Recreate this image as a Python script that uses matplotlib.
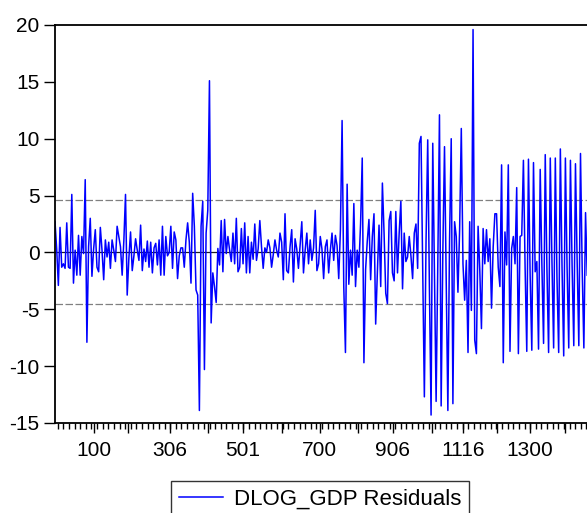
import numpy as np
import matplotlib.pyplot as plt

plt.rcParams['font.family'] = ['Liberation Sans', 'DejaVu Sans']
plt.rcParams['axes.unicode_minus'] = False

# residuals, left to right
resid_a = [2.7, 0.3, -2.9, 2.2, -1.3, -1.0, -1.4, 2.6, -1.3, -1.4,
           5.1, -2.7, 0.2, -2.0, 1.5, -2.0, 1.4, -0.1, 6.4, -7.9,
           0.5, 3.0, -2.1, 0.3, 2.0, -1.3, -1.7, 2.2, 0.2, -2.4,
           1.1, -0.4, 0.9, -1.4, 1.1, 0.2, -0.8, 2.3, 1.4, 0.5,
           -2.0, 1.0, 5.1, -3.75, -0.5, 1.8, -1.6, -0.3, 1.2, 0.2,
           -0.7, 2.4, -1.6, 0.3, -0.8, 1.0, -1.3, 0.9, -1.8, 0.4,
           0.8, -1.1, 1.1]
resid_b = [-2.0, 2.3, -2.0, 1.4, -0.3, 0.0, 2.3, -1.4, 1.8, 1.1,
           -2.3, -0.3, 0.4, 0.4, -1.3, 1.1, 2.6, 0.9, -2.7, 5.2,
           2.3, -3.3, -3.75, -13.9, 2.3, 4.5, -10.3, 1.7, 3.7, 15.1,
           -6.2, -1.8, -3.0, -4.4, 0.35, -1.1, 2.8, -1.7, 2.9, -0.1,
           1.4, 0.2, -0.8, 1.7, -1.0, 3.0, -1.7, -1.3, 2.1, -1.0,
           2.6, -1.8, 1.4, -1.8, 0.9, -0.6, 2.5, -0.7, 0.3, 2.8,
           0.5, -1.4, 0.4]
resid_c = [0.0, 1.1, 0.4, -1.3, -0.2, 1.1, 0.2, -0.4, 1.7, 0.9,
           -2.4, 3.4, -1.6, -1.8, 0.5, 2.0, -2.6, 1.2, 0.3, -1.4,
           0.6, 2.7, -1.8, 0.2, 1.7, -1.0, 1.1, -0.7, 0.4, 3.7,
           -1.6, -1.0, 1.4, 0.3, -2.3, 0.5, 1.1, -1.8, 0.2, 1.7,
           -0.7, 1.5, 0.6, -2.3, 2.0, 11.6, -3.0, -8.8, 6.0, -2.8,
           0.2, -2.0, 4.3, -3.0, 0.2, -1.3, 2.5, 8.3, -9.7, -1.5,
           1.0, 2.9, -2.4, 1.4]
resid_d = [3.4, -6.3, -1.8, 2.4, -3.0, 6.1, 1.7, -3.6, -4.5, 2.8,
           3.6, -1.8, -2.5, 3.6, -1.8, 1.7, 4.5, -3.2, 1.7, -0.8,
           -0.4, 1.4, -0.3, -2.3, 1.7, 2.5, -1.4, 9.6, 10.2, -1.0,
           -12.7, 1.0, 9.9, -3.0, -14.3, 9.6, -2.0, -13.1, -1.0, 12.1,
           -13.5, 0.0, 9.3, -2.0, -13.9, 1.0, 10.0, -13.3, 2.7, 1.4,
           -3.5, 2.0, 10.9, -1.0, -4.2, -0.7, -8.8, 2.7, -5.1, 19.6,
           -7.7]
resid_e = [-8.9, 2.3, -1.5, -6.7, 2.1, -1.0, 2.0, -0.8, 1.2, -4.9,
           0.5, 3.4, 3.4, -1.3, -3.0, 7.7, -9.7, 1.8, -1.1, 7.7,
           -8.7, 0.35, 1.4, -1.0, 5.7, -8.9, 1.4, 1.5, 8.1, -1.3,
           -8.7, 8.2, -2.0, -8.6, 7.9, -1.7, -0.8, -8.5, 7.3, -1.1,
           -8.0, 8.6, -1.4, -8.8, 8.3, -0.8, -8.4, 8.3, -2.3, -8.8,
           9.1, -1.3, -9.1, 8.3, -1.3, -8.4, 8.1, -1.2, -8.2, 7.8,
           -0.8, -8.2, 8.7, -1.4, -8.4, 3.5, -2.0]

se_band = 4.57

# x axis: major ticks (labelled and unlabelled), in observation-index units
tick_pos = [23.2, 43.5, 68.5, 91.1, 111.9, 135.1, 157.7, 180.4,
            201.2, 224.4, 242.9, 263.1, 282.7, 303.6]
tick_labels = ['100', '', '306', '', '501', '', '700', '',
               '906', '', '1116', '', '1300', '']

resid = np.array(resid_a + resid_b + resid_c + resid_d + resid_e)
obs = np.arange(len(resid))

fig = plt.figure(figsize=(5.87, 5.13), dpi=100)
ax = fig.add_axes([55 / 587, 90 / 513, 537 / 587, 398 / 513])

ax.axhline(0, color='#202020', lw=0.9, zorder=1)
ax.axhline(se_band, color='#808080', lw=0.9, ls=(0, (6, 2)), zorder=1)
ax.axhline(-se_band, color='#808080', lw=0.9, ls=(0, (6, 2)), zorder=1)
ax.plot(obs, resid, color='#0000ff', lw=1.1, label='DLOG_GDP Residuals', zorder=2)

ax.set_xlim(0, 319.6)
ax.set_ylim(-15, 20)
ax.set_yticks(range(-15, 21, 5))
ax.set_xticks(tick_pos)
ax.set_xticklabels(tick_labels)
ax.set_xticks(np.arange(1.6, 320, 3.35), minor=True)

for s in ax.spines.values():
    s.set_linewidth(1.3)
    s.set_color('black')

ax.tick_params(axis='y', direction='out', length=8, width=1.0, pad=3, labelsize=15)
ax.tick_params(axis='x', which='major', direction='out', length=7, width=1.0, pad=6, labelsize=15)
ax.tick_params(axis='x', which='minor', direction='out', length=4, width=1.0)

fig.legend(loc='upper center', bbox_to_anchor=(320 / 587, 1 - 481 / 513),
           frameon=True, fancybox=False, edgecolor='black', fontsize=16,
           handlelength=2.0, handletextpad=0.5, borderpad=0.35, borderaxespad=0)

fig.savefig('out.png', dpi=100)
